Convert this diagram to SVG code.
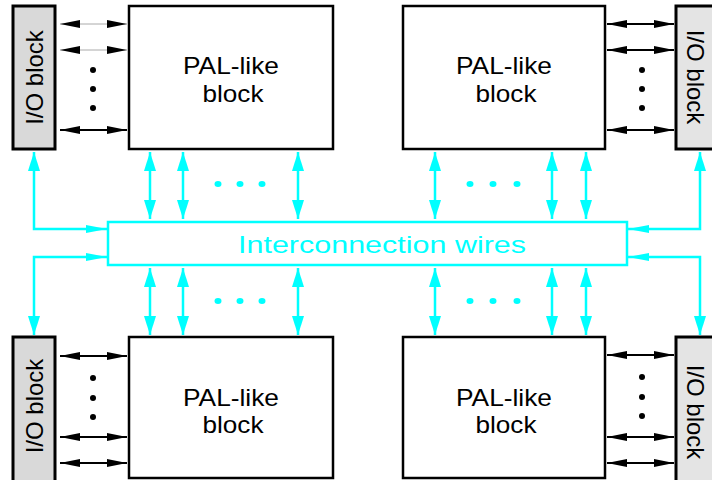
<svg xmlns="http://www.w3.org/2000/svg" width="712" height="480" viewBox="0 0 712 480">
<style>
.pal{fill:#fff;stroke:#000;stroke-width:2.5}
.io{stroke:#000;stroke-width:3}
.t{font-family:"Liberation Sans",Arial,sans-serif;font-size:24px;fill:#000}
.ct{font-family:"Liberation Sans",Arial,sans-serif;font-size:24px;fill:#00ffff}
.bl{stroke:#000;stroke-width:2;fill:none;marker-start:url(#ba);marker-end:url(#ba)}
.gl{stroke:#aaa;stroke-width:1;fill:none;marker-start:url(#ba);marker-end:url(#ba)}
.cv{stroke:#00ffff;stroke-width:2.5;fill:none;marker-start:url(#ca);marker-end:url(#ca)}
.ce{stroke:#00ffff;stroke-width:2.5;fill:none;marker-start:url(#ca);marker-end:url(#ch)}
.bd{fill:#000}
.cd{fill:#00ffff}
</style>
<defs>
<marker id="ba" markerUnits="userSpaceOnUse" markerWidth="20" markerHeight="10" viewBox="0 -5 20 10" refX="20" refY="0" orient="auto-start-reverse"><path d="M0,-4 L20,0 L0,4 Z" fill="#000"/></marker>
<marker id="ca" markerUnits="userSpaceOnUse" markerWidth="20" markerHeight="14" viewBox="0 -7 20 14" refX="19" refY="0" orient="auto-start-reverse"><path d="M0,-6 L19,0 L0,6 Z" fill="#00ffff"/></marker>
<marker id="ch" markerUnits="userSpaceOnUse" markerWidth="22" markerHeight="10" viewBox="0 -5 22 10" refX="21" refY="0" orient="auto-start-reverse"><path d="M0,-4 L21,0 L0,4 Z" fill="#00ffff"/></marker>
</defs>

<g id="io-tl"><rect class="io" x="13" y="6" width="42" height="143" fill="#d9d9d9"/><text class="t" transform="translate(43,77.5) rotate(-90)" text-anchor="middle">I/O block</text></g>
<g id="io-tr"><rect class="io" x="676" y="6" width="50" height="143" fill="#e4e4e4"/><text class="t" transform="translate(687,77) rotate(90)" text-anchor="middle">I/O block</text></g>
<g id="io-bl"><rect class="io" x="13" y="337" width="42" height="155" fill="#d9d9d9"/><text class="t" transform="translate(43,406) rotate(-90)" text-anchor="middle">I/O block</text></g>
<g id="io-br"><rect class="io" x="676" y="337" width="50" height="155" fill="#e4e4e4"/><text class="t" transform="translate(687,412) rotate(90)" text-anchor="middle">I/O block</text></g>

<g id="pal-tl"><rect class="pal" x="129" y="6" width="204" height="143"/><text class="t" x="231" y="74" text-anchor="middle" textLength="96" lengthAdjust="spacingAndGlyphs">PAL-like</text><text class="t" x="233" y="102" text-anchor="middle" textLength="61" lengthAdjust="spacingAndGlyphs">block</text></g>
<g id="pal-tr"><rect class="pal" x="403" y="6" width="202" height="143"/><text class="t" x="504" y="74" text-anchor="middle" textLength="96" lengthAdjust="spacingAndGlyphs">PAL-like</text><text class="t" x="506" y="102" text-anchor="middle" textLength="61" lengthAdjust="spacingAndGlyphs">block</text></g>
<g id="pal-bl"><rect class="pal" x="129" y="337" width="204" height="141"/><text class="t" x="231" y="406" text-anchor="middle" textLength="96" lengthAdjust="spacingAndGlyphs">PAL-like</text><text class="t" x="233" y="433" text-anchor="middle" textLength="61" lengthAdjust="spacingAndGlyphs">block</text></g>
<g id="pal-br"><rect class="pal" x="403" y="337" width="202" height="141"/><text class="t" x="504" y="406" text-anchor="middle" textLength="96" lengthAdjust="spacingAndGlyphs">PAL-like</text><text class="t" x="506" y="433" text-anchor="middle" textLength="61" lengthAdjust="spacingAndGlyphs">block</text></g>

<g id="interconnect"><rect x="108" y="222" width="519" height="43" fill="#fff" stroke="#00ffff" stroke-width="2.5"/><text class="ct" x="382" y="253" text-anchor="middle" textLength="288" lengthAdjust="spacingAndGlyphs">Interconnection wires</text></g>

<g id="connectors">
<path class="gl" d="M60,24 H127"/>
<path class="gl" d="M60,50 H127"/>
<path class="bl" d="M60,130 H127"/>
<path class="bl" d="M607,24 H674"/>
<path class="bl" d="M607,50 H674"/>
<path class="bl" d="M607,130 H674"/>
<path class="bl" d="M60,356 H127"/>
<path class="bl" d="M60,437 H127"/>
<path class="bl" d="M60,463 H127"/>
<path class="bl" d="M607,355 H674"/>
<path class="bl" d="M607,437 H674"/>
<path class="bl" d="M607,463 H674"/>

<path class="cv" d="M150,152 V219"/>
<path class="cv" d="M183,152 V219"/>
<path class="cv" d="M298,152 V219"/>
<path class="cv" d="M435,152 V219"/>
<path class="cv" d="M552,152 V219"/>
<path class="cv" d="M586,152 V219"/>
<path class="cv" d="M150,268 V335"/>
<path class="cv" d="M183,268 V335"/>
<path class="cv" d="M298,268 V335"/>
<path class="cv" d="M435,268 V335"/>
<path class="cv" d="M552,268 V335"/>
<path class="cv" d="M586,268 V335"/>

<path class="ce" d="M34,152 V229 H107"/>
<path class="ce" d="M34,335 V257 H107"/>
<path class="ce" d="M700,152 V229 H628"/>
<path class="ce" d="M700,335 V257 H628"/>
</g>

<g id="dots">
<circle class="bd" cx="93" cy="70" r="3"/><circle class="bd" cx="93" cy="89" r="3"/><circle class="bd" cx="93" cy="108" r="3"/>
<circle class="bd" cx="642" cy="70" r="3"/><circle class="bd" cx="642" cy="89" r="3"/><circle class="bd" cx="642" cy="108" r="3"/>
<circle class="bd" cx="93" cy="378" r="3"/><circle class="bd" cx="93" cy="398" r="3"/><circle class="bd" cx="93" cy="417" r="3"/>
<circle class="bd" cx="642" cy="377" r="3"/><circle class="bd" cx="642" cy="397" r="3"/><circle class="bd" cx="642" cy="416" r="3"/>
<ellipse class="cd" cx="218" cy="184" rx="3.5" ry="3"/><ellipse class="cd" cx="240" cy="184" rx="3.5" ry="3"/><ellipse class="cd" cx="262" cy="184" rx="3.5" ry="3"/>
<ellipse class="cd" cx="470" cy="184" rx="3.5" ry="3"/><ellipse class="cd" cx="493" cy="184" rx="3.5" ry="3"/><ellipse class="cd" cx="517" cy="184" rx="3.5" ry="3"/>
<ellipse class="cd" cx="218" cy="301" rx="3.5" ry="3"/><ellipse class="cd" cx="240" cy="301" rx="3.5" ry="3"/><ellipse class="cd" cx="262" cy="301" rx="3.5" ry="3"/>
<ellipse class="cd" cx="470" cy="301" rx="3.5" ry="3"/><ellipse class="cd" cx="493" cy="301" rx="3.5" ry="3"/><ellipse class="cd" cx="517" cy="301" rx="3.5" ry="3"/>
</g>
</svg>
